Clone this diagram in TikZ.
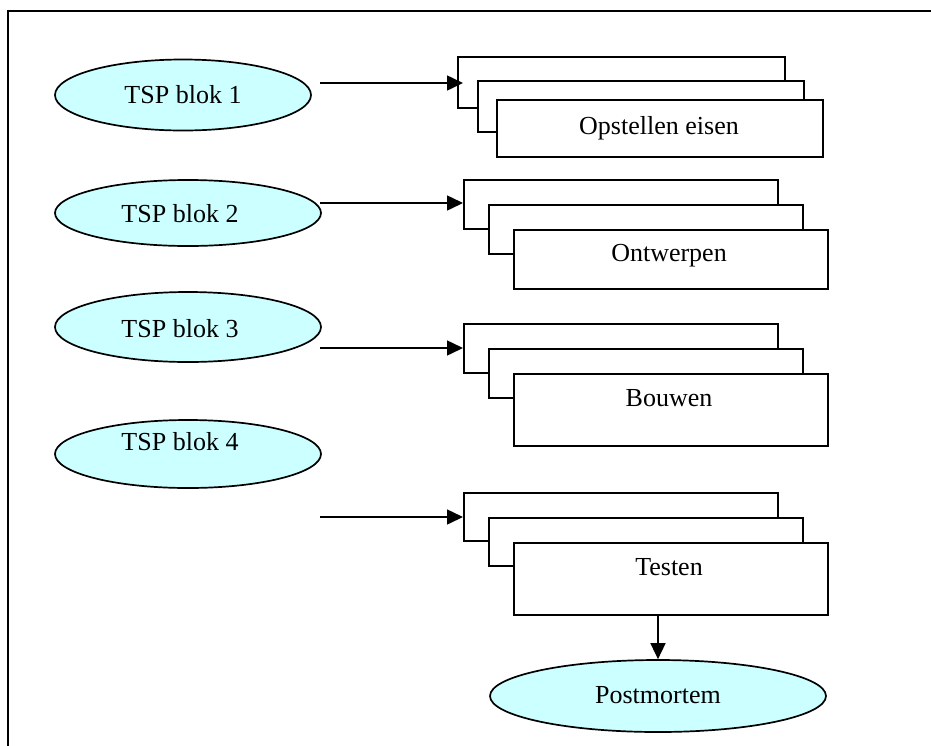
\documentclass[tikz,border=0pt]{standalone}
\usepackage{fontspec}
\setmainfont{Liberation Serif}
\usetikzlibrary{shapes.geometric,arrows.meta}
\definecolor{paleblue}{HTML}{CCFFFF}
\tikzset{
  blok/.style={ellipse, draw, line width=1.7pt, fill=paleblue, inner sep=0pt},
  sheet/.style={rectangle, draw, line width=1.7pt, fill=white, anchor=north west, inner sep=0pt},
  lbl/.style={inner sep=0pt, font=\fontsize{26}{30}\selectfont},
  flow/.style={line width=1.5pt, -{Triangle[length=16pt,width=15pt]}},
}
% draws one stack of three sheets: name prefix, x, y of the back sheet,
% width, back/middle height, front height, step
\newcommand\sheetstack[7]{%
  \node[sheet, minimum width=#4pt, minimum height=#5pt] (#1b) at (#2,#3) {};
  \node[sheet, minimum width=#4pt, minimum height=#5pt] (#1m) at (#2+#7,#3+#7) {};
  \node[sheet, minimum width=#4pt, minimum height=#6pt] (#1f) at (#2+2*#7,#3+2*#7) {};
}
\begin{document}
\begin{tikzpicture}[x=1pt, y=-1pt]
  \useasboundingbox (0,0) rectangle (931,745);
  % outer frame (left and top edges)
  \draw[line width=1.9pt] (8,760) -- (8,11) -- (940,11);

  % activities
  \node[blok, minimum width=256pt, minimum height=71pt] (e1) at (183,95) {};
  \node[lbl] (t1) at (183,95) {TSP blok 1};
  \node[blok, minimum width=266pt, minimum height=66pt] (e2) at (188,213) {};
  \node[lbl] (t2) at (180,214) {TSP blok 2};
  \node[blok, minimum width=266pt, minimum height=70pt] (e3) at (188,327) {};
  \node[lbl] (t3) at (180,329) {TSP blok 3};
  \node[blok, minimum width=266pt, minimum height=68pt] (e4) at (188,454) {};
  \node[lbl] (t4) at (180,442) {TSP blok 4};

  % sheet stacks
  \node[sheet, minimum width=327pt, minimum height=51pt] (s1b) at (457,56) {};
  \node[sheet, minimum width=326pt, minimum height=51pt] (s1m) at (477,80) {};
  \node[sheet, minimum width=326pt, minimum height=57pt] (s1f) at (496,99) {};
  \node[lbl] (o1) at (659,128) {Opstellen eisen};

  \sheetstack{s2}{463}{179}{314}{49}{59}{25}
  \node[lbl] (o2) at (669,256) {Ontwerpen};

  \sheetstack{s3}{463}{323}{314}{49}{72}{25}
  \node[lbl] (o3) at (669,398) {Bouwen};

  \sheetstack{s4}{463}{492}{314}{48}{72}{25}
  \node[lbl] (o4) at (669,567) {Testen};

  \node[blok, minimum width=336pt, minimum height=72pt] (pm) at (658,696) {};
  \node[lbl] (tpm) at (658,695) {Postmortem};

  % connectors
  \coordinate (a1) at (320,83);
  \coordinate (a2) at (320,203);
  \coordinate (a3) at (320,348);
  \coordinate (a4) at (320,517);
  \draw[flow] (a1) -- (a1 -| s1b.west) -- ++(6,0);
  \draw[flow] (a2) -- (a2 -| s2b.west);
  \draw[flow] (a3) -- (a3 -| s3b.west);
  \draw[flow] (a4) -- (a4 -| s4b.west);
  \draw[flow] (pm.north |- s4f.south) -- (pm.north);
\end{tikzpicture}
\end{document}
